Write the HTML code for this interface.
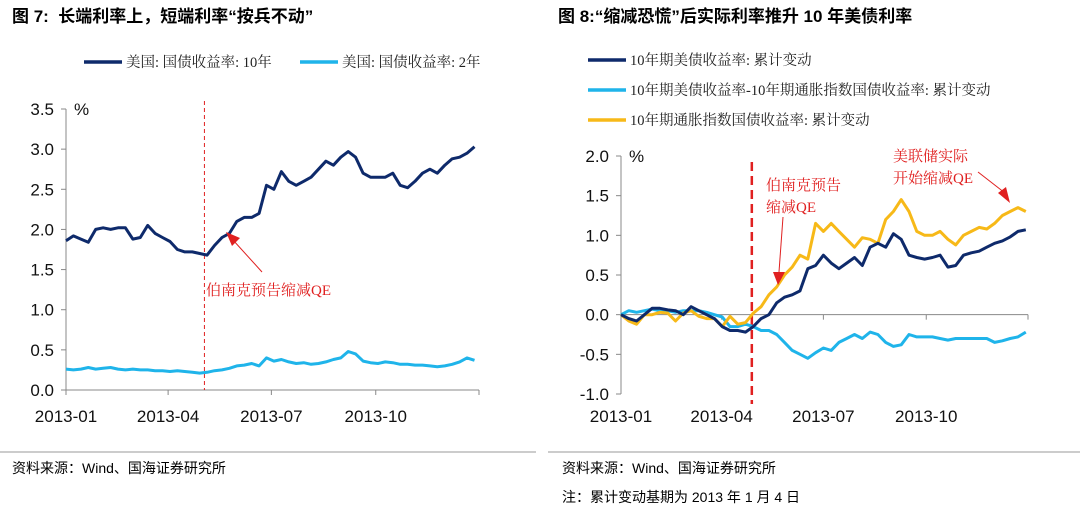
<!DOCTYPE html>
<html><head><meta charset="utf-8">
<style>
body{margin:0;width:1080px;height:514px;background:#fff;overflow:hidden;font-family:"Liberation Sans","Noto Sans CJK SC",sans-serif}
svg{position:absolute;left:0;top:0}
</style></head>
<body>
<svg width="1080" height="514" id="svg">
<g font-family="'Liberation Sans','Noto Sans CJK SC',sans-serif">
<text x="12" y="22" font-size="17" font-weight="bold">图 7:&#160;&#160;长端利率上，短端利率“按兵不动”</text>
<text x="558" y="22" font-size="17" font-weight="bold">图 8:“缩减恐慌”后实际利率推升 10 年美债利率</text>
<line x1="0" y1="452" x2="536" y2="452" stroke="#999"/>
<line x1="548" y1="452" x2="1080" y2="452" stroke="#999"/>
<text x="12" y="473" font-size="14">资料来源：Wind、国海证券研究所</text>
<text x="562" y="473" font-size="14">资料来源：Wind、国海证券研究所</text>
<text x="562" y="502" font-size="14">注：累计变动基期为 2013 年 1 月 4 日</text>
</g>
<g id="left"></g>
<g id="right"></g>
</svg>
<script>
const NS="http://www.w3.org/2000/svg";
const leftTicks=[0,0.5,1.0,1.5,2.0,2.5,3.0,3.5];
const rightTicks=[-1.0,-0.5,0,0.5,1.0,1.5,2.0];
const dateLabels=["2013-01","2013-04","2013-07","2013-10"];
const dateTickDays=[0,90,181,273];
const y10=[1.86,1.92,1.88,1.84,2.00,2.02,2.00,2.02,2.02,1.88,1.90,2.05,1.95,1.90,1.85,1.75,1.72,1.72,1.70,1.68,1.80,1.90,1.95,2.10,2.15,2.15,2.20,2.55,2.50,2.72,2.60,2.55,2.60,2.65,2.75,2.85,2.80,2.90,2.97,2.90,2.70,2.65,2.65,2.65,2.70,2.55,2.52,2.60,2.70,2.75,2.70,2.80,2.88,2.90,2.95,3.03];
const y2=[0.26,0.25,0.26,0.28,0.26,0.27,0.28,0.26,0.25,0.26,0.25,0.25,0.24,0.24,0.23,0.24,0.23,0.22,0.21,0.22,0.24,0.25,0.27,0.30,0.31,0.33,0.30,0.40,0.36,0.38,0.35,0.33,0.34,0.32,0.33,0.35,0.38,0.40,0.48,0.45,0.36,0.34,0.33,0.35,0.34,0.32,0.32,0.31,0.31,0.30,0.29,0.30,0.32,0.35,0.40,0.37];
const nomChg=[0,-0.05,-0.08,0.0,0.08,0.08,0.06,0.05,0.0,0.10,0.05,0.0,-0.05,-0.15,-0.20,-0.20,-0.22,-0.15,-0.05,0.0,0.15,0.22,0.25,0.30,0.58,0.62,0.75,0.65,0.58,0.65,0.72,0.62,0.85,0.90,0.85,1.02,0.95,0.75,0.72,0.70,0.72,0.75,0.60,0.62,0.75,0.78,0.80,0.85,0.90,0.93,0.98,1.05,1.07];
const tipsChg=[0,-0.08,-0.12,0.0,0.0,0.03,0.02,-0.08,0.02,0.05,-0.02,-0.05,-0.05,-0.15,-0.02,-0.12,-0.10,0.02,0.10,0.25,0.35,0.50,0.60,0.75,0.70,1.15,1.05,1.15,1.05,0.95,0.85,0.97,0.95,0.90,1.20,1.30,1.45,1.30,1.05,1.00,1.00,1.05,0.95,0.88,1.00,1.05,1.10,1.08,1.15,1.25,1.30,1.35,1.30];
const spreadChg=[0,0.05,0.03,0.05,0.07,0.05,0.05,0.03,0.05,0.05,0.05,0.03,0.0,-0.03,-0.15,-0.15,-0.12,-0.15,-0.20,-0.20,-0.25,-0.35,-0.45,-0.50,-0.55,-0.48,-0.42,-0.45,-0.35,-0.30,-0.25,-0.30,-0.22,-0.25,-0.35,-0.40,-0.38,-0.25,-0.28,-0.28,-0.28,-0.30,-0.32,-0.30,-0.30,-0.30,-0.30,-0.30,-0.35,-0.33,-0.30,-0.28,-0.22];

function el(p,t,a,txt){const e=document.createElementNS(NS,t);for(const k in a)e.setAttribute(k,a[k]);if(txt!==undefined)e.textContent=txt;p.appendChild(e);return e;}

function chart(g,o){
  const X=d=>o.x0+(o.x1-o.x0)*d/364;
  const Y=v=>o.yb+(v-o.vmin)*(o.yt-o.yb)/(o.vmax-o.vmin);
  let a=el(g,"line",{x1:o.x0,y1:o.yt,x2:o.x0,y2:o.yb,stroke:"#888"});
  
  
  o.ticks.forEach(v=>{
    const t=el(g,"line",{x1:o.x0-5,y1:Y(v),x2:o.x0,y2:Y(v),stroke:"#888"});
    
    
    const l=el(g,"text",{x:o.x0-12,y:Y(v)+6,"text-anchor":"end","font-size":17,fill:"#111"},v.toFixed(1));
    
    
  });
  const ax=el(g,"line",{x1:o.x0,y1:Y(0),x2:o.x1,y2:Y(0),stroke:"#888"});
  
  
  dateTickDays.concat([364]).forEach(d=>{
    const t=el(g,"line",{x1:X(d),y1:Y(0),x2:X(d),y2:Y(0)+5,stroke:"#888"});
    
    
  });
  dateLabels.forEach((s,i)=>{
    const l=el(g,"text",{x:X(dateTickDays[i]),y:o.yl,"text-anchor":"middle","font-size":17,fill:"#111"},s);
    
    
  });
  const u=el(g,"text",{x:o.x0+8,y:o.yt+6,"font-size":17,fill:"#111"},"%");
  
  
  const dl=el(g,"line",{x1:X(o.dash),y1:o.dashTop,x2:X(o.dash),y2:o.yb+(o.dashExt||0),stroke:"#e02020","stroke-width":o.dw,"stroke-dasharray":o.da});
  
  
  o.series.forEach(s=>{
    const n=s.data.length;
    const pts=s.data.map((v,i)=>X(s.d0+(s.d1-s.d0)*i/(n-1)).toFixed(1)+","+Y(v).toFixed(1)).join(" ");
    const p=el(g,"polyline",{points:pts,fill:"none",stroke:s.c,"stroke-width":3,"stroke-linejoin":"round"});
    
    
  });
  return {X,Y};
}
const F="'Liberation Serif','Noto Serif CJK SC',serif";
const L=document.getElementById("left"),R=document.getElementById("right");
chart(L,{x0:66,x1:479,yt:109,yb:390,vmin:0,vmax:3.5,yl:422,ticks:leftTicks,dash:122,dashTop:101,dw:1,da:"4,3",
  series:[{data:y2,c:"#1fb4ea",d0:0,d1:360,name:"series-2y-yield"},{data:y10,c:"#0e2a6b",d0:0,d1:360,name:"series-10y-yield"}]});
chart(R,{x0:621,x1:1028,yt:156,yb:394,vmin:-1,vmax:2,yl:422,ticks:rightTicks,dash:117,dashTop:162,dashExt:10,dw:2.5,da:"9,5",
  series:[{data:spreadChg,c:"#1fb4ea",d0:0,d1:362,name:"series-breakeven-change"},{data:tipsChg,c:"#f7b918",d0:0,d1:362,name:"series-tips-change"},{data:nomChg,c:"#0e2a6b",d0:0,d1:362,name:"series-10y-change"}]});
function leg(g,x,y,c,t,n){
  const l=el(g,"line",{x1:x,y1:y,x2:x+38,y2:y,stroke:c,"stroke-width":3.5});
  
  
  const tx=el(g,"text",{x:x+42,y:y+5,"font-size":14.5,"font-family":F,fill:"#222"},t);
  
  
}
leg(L,84,62,"#0e2a6b","美国: 国债收益率: 10年","legend-10y");
leg(L,300,62,"#1fb4ea","美国: 国债收益率: 2年","legend-2y");
leg(R,588,60,"#0e2a6b","10年期美债收益率: 累计变动","legend-10y-change");
leg(R,588,90,"#1fb4ea","10年期美债收益率-10年期通胀指数国债收益率: 累计变动","legend-spread-change");
leg(R,588,120,"#f7b918","10年期通胀指数国债收益率: 累计变动","legend-tips-change");
function ann(g,x,y,lines,n){lines.forEach((s,i)=>{const t=el(g,"text",{x:x,y:y+i*22,"font-size":15,"font-family":F,fill:"#e02020"},s);
  
  });}
ann(L,206,295,["伯南克预告缩减QE"],"annotation-bernanke");
ann(R,766,190,["伯南克预告","缩减QE"],"annotation-bernanke");
ann(R,893,161,["美联储实际","开始缩减QE"],"annotation-taper");
el(L,"line",{x1:262,y1:272,x2:233,y2:240,stroke:"#e02020","stroke-width":1});
el(L,"polygon",{points:"226,232 240,238 232,246",fill:"#e02020"});
el(R,"line",{x1:783,y1:217,x2:779,y2:272,stroke:"#e02020","stroke-width":1});
el(R,"polygon",{points:"773,272 785,272 778,285",fill:"#e02020"});
el(R,"line",{x1:978,y1:172,x2:1005,y2:193,stroke:"#e02020","stroke-width":1});
el(R,"polygon",{points:"1010,203 998,193 1006,187",fill:"#e02020"});
</script>
</body></html>
